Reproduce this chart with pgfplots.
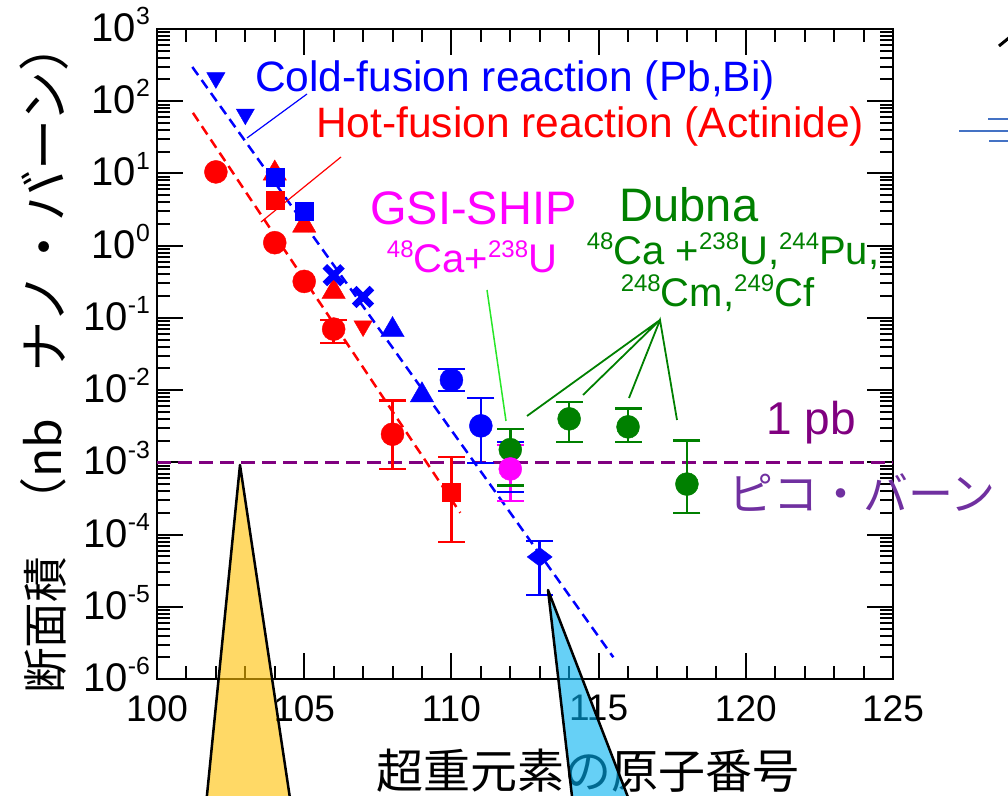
\documentclass[border=0pt]{standalone}
\usepackage{fontspec}
\setmainfont{Liberation Sans}
\newfontfamily\jp{Noto Sans CJK JP}
\usepackage{graphicx}
\usepackage{pgfplots}
\pgfplotsset{compat=1.18}
\definecolor{dgreen}{RGB}{0,128,0}
\definecolor{pur}{RGB}{128,0,128}
\definecolor{vio}{RGB}{112,48,160}
\definecolor{gold}{RGB}{255,192,0}
\definecolor{sky}{RGB}{0,176,240}
\definecolor{lime}{RGB}{40,230,40}
\definecolor{slblue}{RGB}{68,114,196}
\definecolor{mag}{RGB}{255,0,255}
\definecolor{pblue}{RGB}{0,0,255}
\definecolor{pred}{RGB}{255,0,0}
\newcommand\sps[1]{\raisebox{0.42em}{\scalebox{0.62}{#1}}}
\newcommand\spa[1]{\raisebox{0.38em}{\scalebox{0.6}{#1}}}
\begin{document}
\begin{tikzpicture}
\begin{axis}[
 at={(157pt,116pt)}, anchor=south west,
 width=736pt, height=650pt, scale only axis,
 xmin=100, xmax=125, ymode=log, ymin=1e-6, ymax=1e3,
 clip=false,
 axis line style={line width=2.5pt},
 xtick={100,105,110,115,120,125},
 xticklabels={100,105,110,115,120,125},
 minor xtick={101,102,103,104,106,107,108,109,111,112,113,114,116,117,118,119,121,122,123,124},
 ytick={1e-6,1e-5,1e-4,1e-3,1e-2,1e-1,1,10,100,1000},
 yticklabels={10\sps{-6},10\sps{-5},10\sps{-4},10\sps{-3},10\sps{-2},10\sps{-1},10\sps{0},10\sps{1},10\sps{2},10\sps{3}},
 minor ytick={2e-6,3e-6,4e-6,5e-6,6e-6,7e-6,8e-6,9e-6,
  2e-5,3e-5,4e-5,5e-5,6e-5,7e-5,8e-5,9e-5,
  2e-4,3e-4,4e-4,5e-4,6e-4,7e-4,8e-4,9e-4,
  2e-3,3e-3,4e-3,5e-3,6e-3,7e-3,8e-3,9e-3,
  0.02,0.03,0.04,0.05,0.06,0.07,0.08,0.09,
  0.2,0.3,0.4,0.5,0.6,0.7,0.8,0.9,
  2,3,4,5,6,7,8,9,20,30,40,50,60,70,80,90,
  200,300,400,500,600,700,800,900},
 tick align=inside,
 major tick length=26pt, minor tick length=13pt,
 tick style={line width=2pt, black},
 xticklabel style={font=\fontsize{37}{40}\selectfont, inner sep=0pt, anchor=north, yshift=-16pt},
 yticklabel style={font=\fontsize{40}{42}\selectfont, inner sep=0pt, anchor=base east, yshift=-12.5pt, xshift=-7pt},
]
% 1 pb line
\addplot[pur, line width=2.5pt, dash pattern=on 14pt off 7pt] coordinates {(100,1e-3) (125,1e-3)};
% error bars
\addplot[pred, line width=2.5pt, mark=-, mark size=13.5pt] coordinates {(106,0.093) (106,0.045)};
\addplot[pred, line width=2.5pt, mark=-, mark size=13.5pt] coordinates {(108,0.0072) (108,0.00081)};
\addplot[pred, line width=2.5pt, mark=-, mark size=13.5pt] coordinates {(110,0.00118) (110,7.9e-5)};
\addplot[pblue, line width=2.5pt, mark=-, mark size=13.5pt] coordinates {(110,0.0195) (110,0.0097)};
\addplot[pblue, line width=2.5pt, mark=-, mark size=13.5pt] coordinates {(111,0.0078) (111,0.00098)};
\addplot[pblue, line width=2.5pt, mark=-, mark size=13.5pt] coordinates {(112,0.0019) (112,0.00039)};
\addplot[pblue, line width=2.5pt, mark=-, mark size=13.5pt] coordinates {(113,8.1e-5) (113,1.45e-5)};
\addplot[dgreen, line width=2.5pt, mark=-, mark size=13.5pt] coordinates {(112,0.0029) (112,0.00048)};
\addplot[dgreen, line width=2.5pt, mark=-, mark size=13.5pt] coordinates {(114,0.0068) (114,0.0019)};
\addplot[dgreen, line width=2.5pt, mark=-, mark size=13.5pt] coordinates {(116,0.0056) (116,0.0019)};
\addplot[dgreen, line width=2.5pt, mark=-, mark size=13.5pt] coordinates {(118,0.0020) (118,0.0002)};
\addplot[mag, line width=2.5pt, mark=-, mark size=13.5pt] coordinates {(112,0.00174) (112,0.00029)};
% hot fusion (red)
\addplot[only marks, pred, mark=*, mark size=11.5pt] coordinates {(102,10.5) (104,1.1) (105,0.32) (106,0.07) (108,0.00245)};
\addplot[only marks, pred, mark=triangle*, mark size=13.5pt] coordinates {(104,10) (105,1.9) (106,0.23)};
\addplot[only marks, pred, mark=square*, mark size=9pt] coordinates {(104,4.3) (110,0.00039)};
\addplot[only marks, pred, mark=triangle*, mark size=10.5pt, mark options={rotate=180}] coordinates {(107,0.077)};
% cold fusion (blue)
\addplot[only marks, pblue, mark=triangle*, mark size=10.5pt, mark options={rotate=180}] coordinates {(102,210) (103,66)};
\addplot[only marks, pblue, mark=square*, mark size=9pt] coordinates {(104,9.0) (105,3.0)};
\addplot[only marks, pblue, mark=x, mark size=12.5pt, mark options={line width=6.5pt}] coordinates {(106,0.39) (107,0.195)};
\addplot[only marks, pblue, mark=triangle*, mark size=13.5pt] coordinates {(108,0.068) (109,0.0085)};
\addplot[only marks, pblue, mark=*, mark size=11.5pt] coordinates {(110,0.0138) (111,0.0032)};
\addplot[only marks, pblue, mark=diamond*, mark size=12.5pt, mark options={rotate=90}] coordinates {(113,4.9e-5)};
% Dubna and GSI
\addplot[only marks, dgreen, mark=*, mark size=11.5pt] coordinates {(112,0.0015) (114,0.004) (116,0.0031) (118,0.0005)};
\addplot[only marks, mag, mark=*, mark size=11.5pt] coordinates {(112,0.00081)};
% systematics
\addplot[pblue, line width=2.5pt, dash pattern=on 10pt off 6pt] coordinates {(101.2,298) (115.5,2.0e-6)};
\addplot[pred, line width=2.5pt, dash pattern=on 10pt off 6pt] coordinates {(101.22,69) (110.3,2.0e-4)};
\end{axis}
\begin{scope}[x=1pt,y=-1pt,yshift=795pt]
 % pointer lines
 \draw[pblue, line width=1.2pt] (247,138) -- (307,94);
 \draw[pred, line width=1.2pt] (261,222) -- (341,157);
 \draw[lime, line width=1.5pt] (487,290) -- (506,421);
 \draw[dgreen, line width=1.8pt] (527,416) -- (660,320) -- (583,395);
 \draw[dgreen, line width=1.8pt] (629,398) -- (660,320) -- (677,420);
 % texts
 \node[pblue, anchor=base west, inner sep=0pt, font=\fontsize{42.5}{42}\selectfont] at (255,92) {Cold-fusion reaction (Pb,Bi)};
 \node[pred, anchor=base west, inner sep=0pt, font=\fontsize{42.5}{42}\selectfont] at (316,138) {Hot-fusion reaction (Actinide)};
 \node[mag, anchor=base, inner sep=0pt, font=\fontsize{47}{47}\selectfont] at (473.5,225) {GSI-SHIP};
 \node[mag, anchor=base, inner sep=0pt, font=\fontsize{40}{40}\selectfont] at (472,273) {\spa{48}Ca+\spa{238}U};
 \node[dgreen, anchor=base, inner sep=0pt, font=\fontsize{47}{47}\selectfont] at (689,222) {Dubna};
 \node[dgreen, anchor=base, inner sep=0pt, font=\fontsize{40}{40}\selectfont] at (733,265) {\spa{48}Ca +\spa{238}U,\spa{244}Pu,};
 \node[dgreen, anchor=base, inner sep=0pt, font=\fontsize{40}{40}\selectfont] at (717.5,307) {\spa{248}Cm,\spa{249}Cf};
 \node[pur, anchor=base, inner sep=0pt, font=\fontsize{46}{46}\selectfont] at (811,435) {1 pb};
 \node[vio, anchor=base west, inner sep=0pt, font=\jp\fontsize{45}{45}\selectfont] at (728,511) {ピコ・バーン};
 % axis titles
 \node[anchor=base, inner sep=0pt, font=\jp\fontsize{47}{47}\selectfont] at (588,788) {超重元素の原子番号};
 \node[anchor=base west, rotate=90, inner sep=0pt, font=\jp\fontsize{45.5}{45}\selectfont] at (62,694) {断面積};
 \node[anchor=base, rotate=90, inner sep=0pt, font=\jp\fontsize{48}{48}\selectfont] at (61,472) {（nb};
 \node[anchor=base east, rotate=90, inner sep=0pt, font=\jp\fontsize{51}{51}\selectfont] at (63,20) {ナノ・バーン）};
 % stray slide fragments
 \draw[slblue, line width=1.5pt] (988,119) -- (1010,119);
 \draw[slblue, line width=1.5pt] (959,131) -- (1010,131);
 \draw[slblue, line width=1.5pt] (989,141) -- (1010,141);
 \draw[black, line width=3pt] (999,46) -- (1010,37);
 % pointer triangles
 \filldraw[fill=gold, fill opacity=0.6, draw=black, line width=2.5pt, line join=round] (240,465) -- (206,805) -- (291,805) -- cycle;
 \filldraw[fill=sky, fill opacity=0.6, draw=black, line width=2.5pt, line join=round] (548,590) -- (573,805) -- (631,805) -- cycle;
\end{scope}
\pgfresetboundingbox
\path[use as bounding box] (0,0) rectangle (1008pt,795pt);
\end{tikzpicture}
\end{document}
